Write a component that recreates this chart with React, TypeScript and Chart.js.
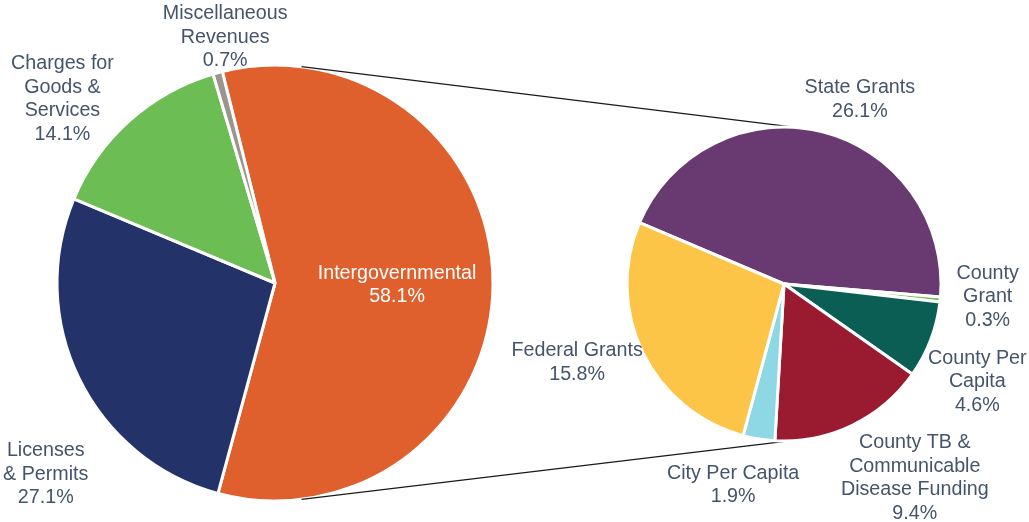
import React, { useEffect, useRef } from "react";
import { Chart, registerables } from "chart.js";

Chart.register(...registerables);

// ---- data ----
const MAIN_LABELS: string[][] = [
  ["Intergovernmental"],
  ["Licenses", "& Permits"],
  ["Charges for", "Goods &", "Services"],
  ["Miscellaneous", "Revenues"],
];
const MAIN_VALUES = [58.1, 27.1, 14.1, 0.7];
const MAIN_COLORS = ["#DF5F2D", "#23336A", "#6BBD54", "#9C948E"];

const DETAIL_LABELS: string[][] = [
  ["State Grants"],
  ["County", "Grant"],
  ["County Per", "Capita"],
  ["County TB &", "Communicable", "Disease Funding"],
  ["City Per Capita"],
  ["Federal Grants"],
];
const DETAIL_VALUES = [26.1, 0.3, 4.6, 9.4, 1.9, 15.8];
const DETAIL_COLORS = ["#693A72", "#7DC257", "#0B5E53", "#9A1B30", "#8ED7E4", "#FDC548"];

// ---- label placement (radius ratio, angle offset in degrees from slice middle) ----
const MAIN_PLACEMENT = [
  { r: 0.56, da: 0.5, color: "#FFFFFF" },
  { r: 1.37, da: -13.8 },
  { r: 1.29, da: -7.2 },
  { r: 1.15, da: 3.8 },
];
const DETAIL_PLACEMENT = [
  { r: 1.27, da: 8.5 },
  { r: 1.3, da: -2 },
  { r: 1.38, da: 6 },
  { r: 1.49, da: -8.2 },
  { r: 1.32, da: 5 },
  { r: 1.41, da: 5.1 },
];

const TEXT_COLOR = "#44546A";
const FONT = '19.7px "Liberation Sans", Arial, sans-serif';
const LINE_H = 23.5;

const W = 1029;
const H = 522;

const sliceLabels = {
  id: "sliceLabels",
  afterDatasetsDraw(chart: any, _args: any, opts: any) {
    const ctx = chart.ctx;
    const meta = chart.getDatasetMeta(0);
    const data = chart.data.datasets[0].data as number[];
    const labels = opts.labels as string[][];
    const placement = opts.placement as any[];
    ctx.save();
    ctx.font = FONT;
    ctx.textAlign = "center";
    ctx.textBaseline = "middle";
    meta.data.forEach((arc: any, i: number) => {
      const p = arc.getProps(["x", "y", "startAngle", "endAngle", "outerRadius"], true);
      const mid = (p.startAngle + p.endAngle) / 2 + (placement[i].da * Math.PI) / 180;
      const rr = p.outerRadius * placement[i].r;
      const cx = p.x + Math.cos(mid) * rr;
      const cy = p.y + Math.sin(mid) * rr;
      const lines = [...labels[i], data[i].toFixed(1) + "%"];
      ctx.fillStyle = placement[i].color || TEXT_COLOR;
      lines.forEach((t, k) => {
        ctx.fillText(t, cx, cy + (k - (lines.length - 1) / 2) * LINE_H);
      });
    });
    ctx.restore();
  },
};

// connector angles (compass degrees: 0 = top, clockwise)
const CONNECTORS = [
  { from: 7, to: 5 },
  { from: 173, to: 178 },
];

export default function App() {
  const refA = useRef<HTMLCanvasElement>(null);
  const refB = useRef<HTMLCanvasElement>(null);

  useEffect(() => {
    const chartA = new Chart(refA.current!, {
      type: "pie",
      data: {
        labels: MAIN_LABELS.map((l) => l.join(" ")),
        datasets: [
          {
            data: MAIN_VALUES,
            backgroundColor: MAIN_COLORS,
            borderColor: "#FFFFFF",
            borderWidth: 3,
          },
        ],
      },
      options: {
        responsive: false,
        animation: false,
        rotation: -14,
        radius: 218,
        layout: { padding: { left: 0, right: W - 550, top: 44, bottom: 0 } },
        plugins: {
          legend: { display: false },
          tooltip: { enabled: false },
          sliceLabels: { labels: MAIN_LABELS, placement: MAIN_PLACEMENT },
        } as any,
      },
      plugins: [sliceLabels],
    });

    const connectorPlugin = {
      id: "connectors",
      beforeDatasetsDraw(chart: any) {
        const a = chartA.getDatasetMeta(0).data[0] as any;
        const b = chart.getDatasetMeta(0).data[0] as any;
        if (!a || !b) return;
        const pa = a.getProps(["x", "y", "outerRadius"], true);
        const pb = b.getProps(["x", "y", "outerRadius"], true);
        const ctx = chart.ctx;
        ctx.save();
        ctx.strokeStyle = "#1a1a1a";
        ctx.lineWidth = 1.2;
        CONNECTORS.forEach((c) => {
          const fa = (c.from * Math.PI) / 180;
          const ta = (c.to * Math.PI) / 180;
          ctx.beginPath();
          ctx.moveTo(pa.x + Math.sin(fa) * pa.outerRadius, pa.y - Math.cos(fa) * pa.outerRadius);
          ctx.lineTo(pb.x + Math.sin(ta) * pb.outerRadius, pb.y - Math.cos(ta) * pb.outerRadius);
          ctx.stroke();
        });
        ctx.restore();
      },
    };

    const chartB = new Chart(refB.current!, {
      type: "pie",
      data: {
        labels: DETAIL_LABELS.map((l) => l.join(" ")),
        datasets: [
          {
            data: DETAIL_VALUES,
            backgroundColor: DETAIL_COLORS,
            borderColor: "#FFFFFF",
            borderWidth: 3,
          },
        ],
      },
      options: {
        responsive: false,
        animation: false,
        rotation: -67,
        radius: 157,
        layout: { padding: { left: 539, right: 0, top: 46, bottom: 0 } },
        plugins: {
          legend: { display: false },
          tooltip: { enabled: false },
          sliceLabels: { labels: DETAIL_LABELS, placement: DETAIL_PLACEMENT },
        } as any,
      },
      plugins: [connectorPlugin, sliceLabels],
    });

    return () => {
      chartB.destroy();
      chartA.destroy();
    };
  }, []);

  const canvasStyle: React.CSSProperties = {
    position: "absolute",
    left: 0,
    top: 0,
    width: W,
    height: H,
  };

  return (
    <div style={{ position: "fixed", left: 0, top: 0, width: W, height: H, background: "#FFFFFF" }}>
      <canvas ref={refA} width={W} height={H} style={canvasStyle} />
      <canvas ref={refB} width={W} height={H} style={canvasStyle} />
    </div>
  );
}
